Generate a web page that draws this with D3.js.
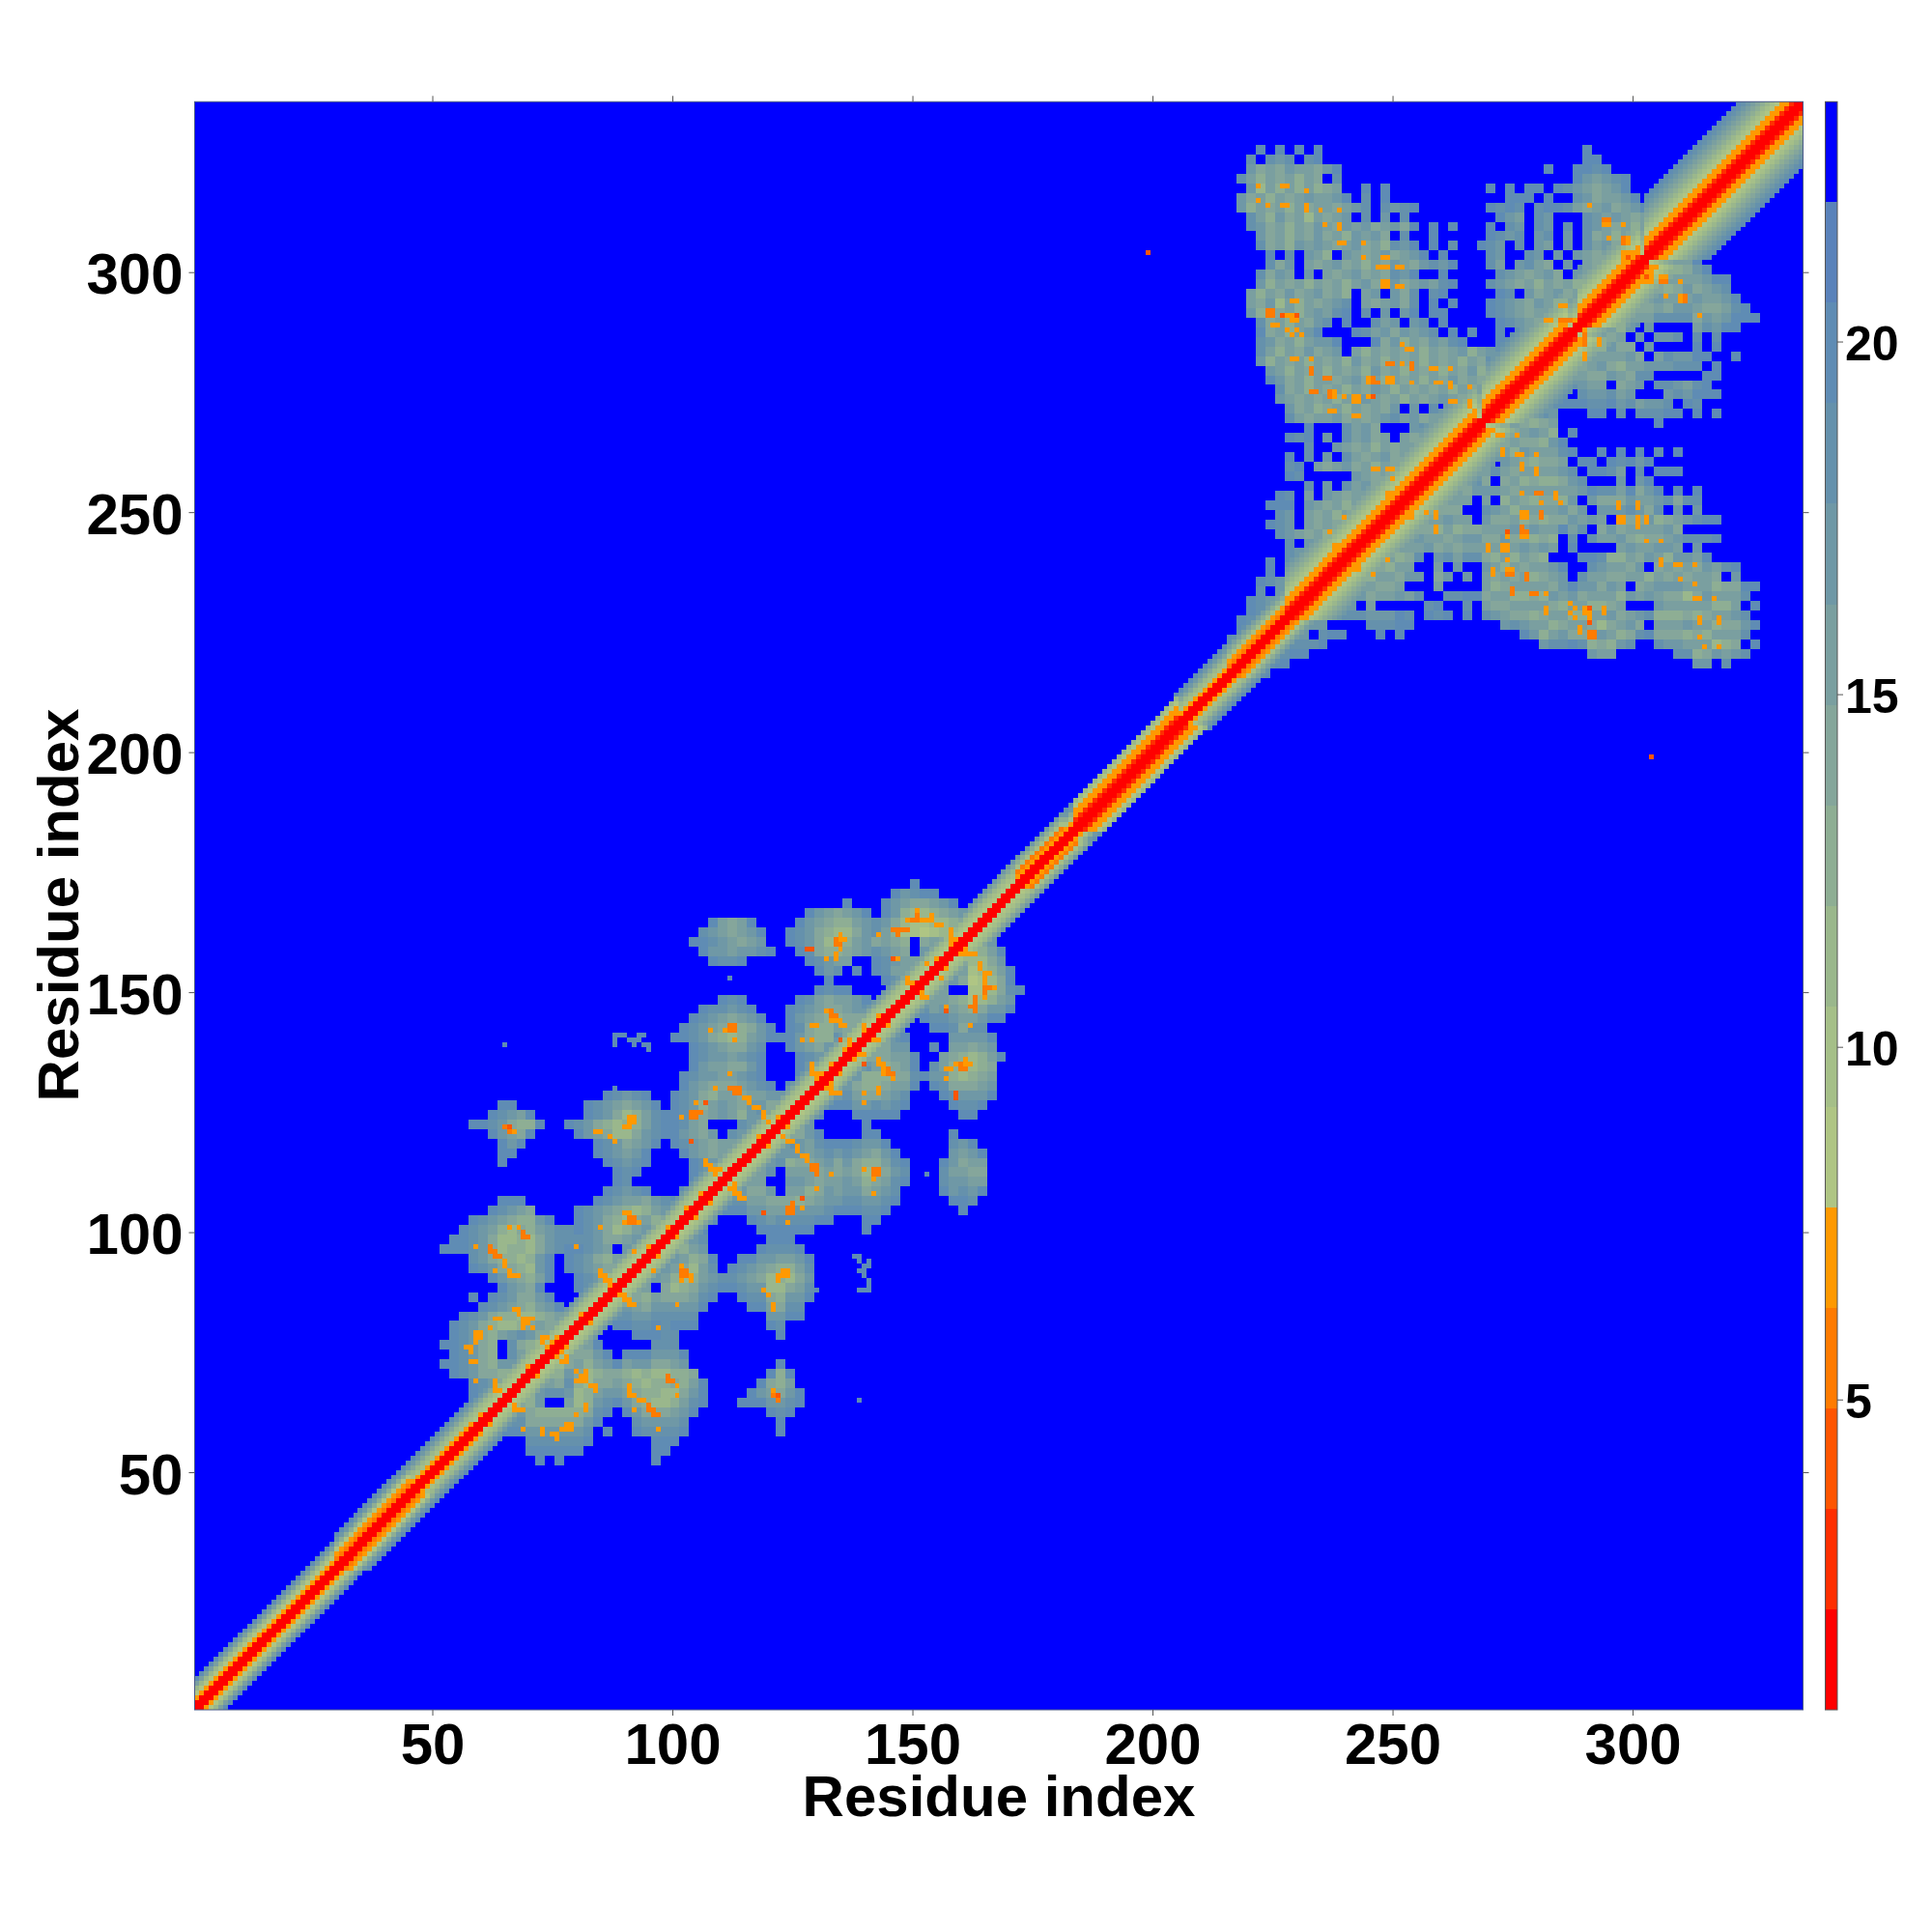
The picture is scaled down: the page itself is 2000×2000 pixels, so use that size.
<!DOCTYPE html>
<html><head><meta charset="utf-8">
<style>html,body{margin:0;padding:0;background:#fff}svg{display:block}text{font-family:"Liberation Sans",Arial,sans-serif;font-weight:bold;fill:#000}</style>
<script src="https://cdnjs.cloudflare.com/ajax/libs/d3/7.8.5/d3.min.js"></script>
</head><body><svg id="chart" width="2000" height="2000"></svg>
<script>
// distance levels, 0 = closest (red) ... 15 = farthest (blue)
const levelColors = ["#ff0000","#ff2f00","#ff5500","#ff7b00","#ff9900","#afc584","#a5bf88","#9ab78c","#8eae94","#85a69b","#7a9fa0","#6f98a6","#6591ac","#5f8cb4","#5a82ba","#0000ff"];
const residueCount = 335;
const axisTicks = [50,100,150,200,250,300];
const barTicks = [5,10,15,20];
const axisTitle = "Residue index";

// profile along the diagonal: first residue, last residue, level by offset from the diagonal
const bandSegments = [
 [1,30,"00457ad"],[30,45,"00345 8bd"],[45,58,"004679bd"],[58,172,"00567 9b"],
 [172,181,"0043 68b"],[181,184,"0046 8bc"],[184,205,"00144 57"],[205,216,"00467 9bd"],
 [216,228,"00346 8ac"],[228,240,"00144 56789ab"],[240,254,"00144 56789ab"],[254,267,"00144 56789ab"],
 [267,269,"00567 89abc"],[269,286,"00144 56789abc"],[286,289,"00567 89abc"],[289,301,"00144 56789abc"],
 [301,303,"00567 89abc"],[303,335,"00144 56789abcd"]
];

// first cluster region, 2-residue cells, x from 52, rows y = 172, 170, ... (upper-left half)
const clusterAStartX = 52, clusterATopY = 172;
const clusterARows = [
"..........  ..........  ..........  ..........  .........d",
"..........  ..........  ..........  ..........  .......dbc  dd",
"..........  ..........  ..........  ..........  ..d...dba9  9abd",
"..........  ..........  ..........  ........db  a9abd.db87  789abd",
"..........  ..........  ........da  9ad....dba  988abcb976  67789ab",
"..........  ..........  .......cba  9abd..dcb9  8779bca866  5678a9b8",
"..........  ..........  ......ddcb  a9ab..dcb9  778ab9a98.  9a97887a",
"..........  ..........  .......dbb  abbcd..dc9  889abcba9.  ba988",
"..........  ..........  ........dc  cd......dc  baa..dcbaa  a9989",
"..........  ..........  ..........  .........d  bc.d.dcaa9  9a8a",
"..........  ..........  ..........  ..........  d.....dcba  98a",
"..........  ..........  ..........  .........d  cdd....dcb  a98",
"..........  ..........  .........d  cd.....dca  9aabd.dc98  9",
"..........  ..........  .......dcc  bcd...dcba  99abcba8",
"..........  ..........  ......dcba  9abd..dba9  8899ab8",
"..........  ..........  .....dcba9  889bd.dc98  8a9b9a8",
"..........  ..........  ....ddcb98  78abdddb98  8cba98",
"..........  ..........  ......dcba  99bc..dba9  bccb9",
"..........  ..........  ......dcbb  abcd...dcb  bcca",
"..........  ..........  ......dbaa  99bd...dba  abb9",
"..........  ..........  .....dcbba  abcd...dc9  aa9",
"..........  ..........  .....dba99  9abcd.dcb8  9a",
"..........  .......dcb  cd..dcb98a  a9aabba9",
"......dd..  .....dcba9  abd.dcb8ab  a9bb9ab8",
".....dcbad  .....dcb97  8acddcb9ab  a8bc9a8",
"...ddcb988  d..dcb9878  8acddca9..  .cb98a",
".....dba9d  ....dba977  9bcddba9b.  cb98",
"......dbd.  ......dcb9  abd.dcba9a  a9a8",
"......dd..  ......dcba  bd...dba9a  aa9",
"......d...  .......dcb  cd....dcba  9a",
"..........  ........dc  d.....dcb9  a",
"..........  ........dc  ......dba9",
"..........  .......dcb  cd...dcb9a",
"......ddd.  ......dcba  a9bcd.cb",
".....dcba9  ....dcba98  78abba9",
"...dcba988  bd..dcb987  9a8ab9",
"..dcba8798  abccdcb978  abb98",
".ddcb97787  9bccccb99a  b9a8",
"dddcb97887  9bcddcba.b  ab9",
"...cb98878  bd.dcb98ab  a89",
"...dcb9987  bd.dcba997  a8",
".....dba98  ad..dcb987  9",
"......dba9  d...dcb98",
"...d.dcb99  bd...dc9",
"....dcba98  abd.dcb",
"..dcb98877  89abb9",
".dcb987789  a9988",
".dcb98abcb  9987",
"ddcb98.c98  7898",
".dcb98.ca8  87",
"ddcb98bb98  8",
".dcb9988a9",
"...dcb988",
"...dcb98",
"....dcb"
];

// second cluster region, 2-residue cells, x from 216, rows y = 329, 327, ... (upper-left half)
const clusterBStartX = 216, clusterBTopY = 329;
const clusterBRows = [
"",
"",
"...d.d.d.d  ..........  ..........  .......d",
"..c.cbc.cd  ..........  ..........  .......dd",
"..b9a9baa9  bd........  ..........  ...d..ddcd",
".ca8a9a8a9  .c........  ..........  ......dbab  cd",
"..b7a8a8a8  9a..d.d...  .......d.d  .dd.dcba9a  bd",
".b9a8a9aba  abd.c.d...  .........d  dd.d..cb9a  abd",
".b8a9a8a9a  a9abc.cbcd  .......dcd  c.cddca9ab  9abd",
"..ca8b9a7a  9ab.c.b.c.  ........db  a.cb...cba  ba9abd",
"..cb9a8a9b  a9bab9ab9d  .d.d...d.c  b.cb.c.cba  9a8a9abd",
"...b9a8a9b  9a8bab9.c.  .d.....dcb  c.bc.b.c9a  8a9a9bd",
"...c9a8bab  a9ab9a8cbd  .d.c..dcb.  c.ba.b.cab  9a8abd",
"....d.c.ba  8.ba9ab9ab  d.d....cb.  .cb.b.ba9a  b9ab9",
"....c9b.a9  ab9a8a9ba9  bcbd...ca.  bca9.b.a9a  8a9a",
"...c9ba.b.  a9ab9a9cbd  ..d.....cb  a9ab9.ba8a  9a8",
"...b8a9a8a  9a8ab9ab9a  bacd...cba  9a8a9a8ab9  a8",
"..a8a9b9ab  9a8.ab.b9c  .cd.....dc  .b9ab9a8a9  8",
"..a9b7a8a9  abc.a9ab9c  .d.d...dcb  a9ba8a9a8",
"..b8a9a8ab  acd.c.b.bd  .dd....dcb  a9ab9a8a9",
"...c9a8a9b  c.d..cab.b  c.d.....dc  ba9a8a9a",
"...d9a8abd  ...dcab9ba  bc.d.d..d.  ca9a8a7",
"...cb9a8ab  bd...d9b8a  9bacd...dc  a9b8a7",
"...ca8a9b9  ab.a8a9a9a  8a9ab8abdb  a9a8",
"...b8a9a8a  9a8b9a8a9a  8a9a8a9cb9  a87",
"....ba8a9a  8a9a8b9a8a  9a8a9b8a9a  87",
"....db9a8a  a9ab9a8a9a  8a9b9a9a8a  7",
".....c9a8a  9a8a9ba8a9  a9a8a9a9b8",
".....ba9a9  a8a9ba9a8a  9aba9a8ba",
"......b9a8  9a8a9a9b.b  .c.cabc9",
"......ca9a  ab9a9abcab  9abcb9a",
"........d.  ..cab9...b  c.bcab",
"......dcd.  b.cab9a.a9  abcba",
"........c.  .ba9a8a9ab  9ac9",
"......d.c.  b.ca9ab9ab  8a9",
"......cd.a  9ab9a8a9a8  a9",
"......dc..  ...ba9a8a9  a",
"........c.  b.cab9a8a9",
".....dc.a.  ba9ab9a8a",
"....ddd.ba  9a8ab9a8a",
".....cb.a9  a8ab9a8a",
"....dcb.a9  a9a8a9a",
".....cba9a  8a9a8a",
"......c.ba  9a8a9",
"......cba9  a8a9",
"....d.ca9a  8a9",
"....d.cb9a  98",
"...dcba9a8  a",
"...c.ba9a8",
"..dcba9a8",
"..dcb9a8",
".dcba9a",
".dcb9a",
"dcba9"
];

// close contacts, as residue pairs
const contactsLevel2 = [[199,304],[107,127],[104,119],[146,157],[128,159],[129,159],[135,140],[66,122],[227,291],[274,246],[303,299],[291,230]];
const contactsLevel3 = [
 [65,122],[66,121],[112,143],[113,143],[112,142],[113,142],[113,130],[112,130],[114,130],[113,129],[114,129],[104,125],[105,125],[104,124],[105,124],[106,125],
 [62,96],[63,96],[62,97],[63,95],[64,95],[69,100],[69,99],[70,99],[91,103],[92,103],[91,102],[92,102],[147,163],[146,163],[147,162],[148,163],[149,163],
 [134,160],[135,160],[134,161],[133,146],[133,145],[134,145],[151,166],[150,165],[151,165],[225,292],[224,292],[225,291],[224,291],
 [278,237],[278,236],[275,234],[275,233],[291,225],[292,225],[291,224],[233,280],[233,279],[237,275],[237,274],[254,281],[254,280],[281,250],[281,249],[277,246],[278,246],[277,247],[290,287],[295,311],[294,311],[298,307],[298,306],[285,290],[286,290]
];
const contactsLevel4 = [
 [67,121],[91,124],[91,123],[91,122],[92,123],[90,122],[92,124],[88,119],[87,120],[84,121],[85,121],[111,142],[108,142],[113,140],[112,133],
 [115,128],[116,127],[116,128],[117,126],[118,126],[119,125],[119,124],[120,123],[109,130],[105,127],[102,124],[107,115],[108,114],[109,113],[108,113],[110,113],[107,114],[109,112],
 [68,101],[66,101],[65,94],[65,93],[66,92],[66,91],[67,91],[68,91],[59,97],[63,92],[90,104],[91,104],[90,102],[93,102],[85,101],[80,97],[92,96],
 [85,92],[85,91],[86,91],[86,90],[87,89],[87,90],[88,89],[67,84],[68,84],[68,83],[69,82],[70,82],[69,81],[70,81],[71,80],[69,80],[71,82],[63,82],[64,82],
 [59,79],[60,79],[59,78],[60,78],[59,77],[58,76],[57,76],[58,75],[62,80],[58,73],[59,73],[59,69],[63,69],[63,68],[63,67],[64,67],[73,78],[74,78],[73,77],[74,76],[75,77],[76,78],[77,78],
 [134,158],[134,157],[135,159],[135,161],[136,161],[135,162],[132,157],[151,167],[152,165],[153,165],[149,165],[154,165],[154,166],[155,164],[156,164],[158,163],[158,162],[158,161],[159,161],[158,160],[143,162],[147,157],[153,156],[149,153],[149,152],[150,152],
 [132,146],[133,144],[134,144],[135,144],[135,143],[136,143],[129,143],[130,143],[127,140],[129,140],[137,139],[137,140],[129,135],[129,134],[129,133],[130,133],[131,133],[140,143],[140,142],
 [122,124],[133,135],[130,132],[106,108],[103,105],[99,101],[95,97],[81,83],[70,72],[136,138],[118,120],[75,77],[60,62],[143,145],[150,152],[155,157],
 [222,318],[227,318],[232,317],[222,315],[224,314],[227,314],[232,314],[232,313],[235,313],[239,313],[236,310],[239,310],[239,309],[239,306],[240,306],[244,306],[244,303],[248,303],[247,301],[248,301],[251,301],[248,298],[248,297],[251,297],[252,297],
 [229,294],[229,291],[229,290],[225,289],[228,288],[230,288],[229,282],[230,282],[233,282],[236,278],[237,278],[233,275],[234,275],[238,274],[240,274],[242,274],[242,273],[245,274],[237,271],[238,271],[242,270],
 [252,285],[254,284],[253,284],[249,281],[252,281],[258,280],[262,280],[245,278],[245,277],[246,277],[249,278],[249,277],[254,277],[259,277],[262,277],[262,276],[266,276],[262,273],[263,273],[266,273],[266,272],[266,269],
 [291,314],[295,310],[298,310],[295,307],[299,307],[298,304],[298,303],[285,293],[282,290],[287,290],[290,288],[290,286],[293,286],[290,283],
 [246,259],[249,259],[250,259],[250,257],[249,254],[250,254],[240,249],[237,246],
 [304,299],[307,299],[306,299],[310,298],[307,295],[310,295],[311,295],[310,294],[314,291],[273,266],[276,266],[273,263],[273,262],[276,262],[277,262],[280,262],[277,260],[280,259],[277,254],[280,254],[281,254],[284,254],[284,253],[285,252],[281,252],[277,250],[278,250],
 [270,243],[273,243],[274,243],[274,240],[271,238],[271,237],[274,238],[275,238],[279,233],[282,233],[282,230],[282,229],[287,231],[287,229],[290,230],[294,230],[291,228],[289,226],
 [297,252],[297,251],[301,252],[297,249],[298,249],[301,249],[301,248],[303,249],[303,244],[306,244],[306,240],[306,239],[309,239],[310,239],[313,239],[310,236],[313,235],[313,232],[314,232],[317,232],[314,228],[318,228],[314,224],[315,222],[318,222],
 [254,250],[257,250],[259,250],[259,249],[259,247],[238,243]
];
// faint isolated pairs, level 13
const contactsFar = [[65,139],[112,153],[88,130],[91,111],[88,141],[89,141],[90,141],[88,140],[88,139],[91,140],[92,140],[93,141],[93,140],[94,141],[94,139],[92,139],[95,138],[95,139],[139,65]];

const svg = d3.select("#chart");
const box = {left:201.5, right:1866.5, top:105.3, bottom:1770};
const x = d3.scaleLinear().domain([0.5,residueCount+0.5]).range([box.left,box.right]);
const y = d3.scaleLinear().domain([0.5,residueCount+0.5]).range([box.bottom,box.top]);
const color = d3.scaleOrdinal(d3.range(16), levelColors);

// assemble the symmetric matrix as a sparse map
const cells = new Map();
const put = (a,b,level)=>{
  if(a<1||b<1||a>residueCount||b>residueCount) return;
  for(const [p,q] of [[a,b],[b,a]]){
    const k=p*1000+q;
    if(!cells.has(k)||cells.get(k)>level) cells.set(k,level);
  }
};
const readRows=(rows,startX,topY)=>rows.forEach((row,r)=>{
  [...row.replace(/ /g,"")].forEach((ch,c)=>{
    if(ch===".") return;
    const level=parseInt(ch,16);
    const x0=startX+2*c, y0=topY-2*r;
    for(const a of [x0,x0+1]) for(const b of [y0,y0+1]) if(a<b) put(a,b,level);
  });
});
readRows(clusterARows,clusterAStartX,clusterATopY);
readRows(clusterBRows,clusterBStartX,clusterBTopY);
bandSegments.forEach(([from,to,profile])=>{
  const p=profile.replace(/ /g,"");
  for(let i=from;i<=to;i++) [...p].forEach((ch,d)=>put(i,i+d,parseInt(ch,16)));
});
[[contactsFar,13],[contactsLevel4,4],[contactsLevel3,3],[contactsLevel2,2]].forEach(([list,level])=>list.forEach(([a,b])=>put(a,b,level)));

const cellData=[...cells.entries()].map(([k,v])=>({a:Math.floor(k/1000),b:k%1000,v}));

// background of far pairs
svg.append("rect").attr("x",x(0.5)).attr("y",y(residueCount+0.5)).attr("width",x(residueCount+0.5)-x(0.5)).attr("height",y(0.5)-y(residueCount+0.5)).attr("fill",color(15));
svg.append("g").attr("shape-rendering","crispEdges").selectAll("rect").data(cellData).join("rect")
  .attr("x",d=>x(d.a-0.5)).attr("y",d=>y(d.b+0.5))
  .attr("width",d=>x(d.a+0.5)-x(d.a-0.5)).attr("height",d=>y(d.b-0.5)-y(d.b+0.5))
  .attr("fill",d=>color(d.v));

// frame and axes
svg.append("rect").attr("x",box.left).attr("y",box.top).attr("width",box.right-box.left).attr("height",box.bottom-box.top).attr("fill","none").attr("stroke","#4a5a8a").attr("stroke-width",1);
const styleAxis=(g,size,dy)=>{
  g.select(".domain").remove();
  g.selectAll("line").attr("stroke","#555").attr("stroke-width",1);
  g.selectAll("text").style("font-size",size+"px").style("font-weight","bold").style("font-family",'"Liberation Sans",Arial,sans-serif').attr("fill","#000");
  if(dy) g.selectAll("text").attr("dy",dy);
};
svg.append("g").attr("transform",`translate(0,${box.bottom})`).call(d3.axisBottom(x).tickValues(axisTicks).tickSize(6).tickPadding(7)).call(g=>styleAxis(g,60));
svg.append("g").attr("transform",`translate(${box.left},0)`).call(d3.axisLeft(y).tickValues(axisTicks).tickSize(6).tickPadding(6)).call(g=>styleAxis(g,60,"0.37em"));
svg.append("g").attr("transform",`translate(0,${box.top})`).call(d3.axisTop(x).tickValues(axisTicks).tickSize(6).tickFormat("")).call(g=>styleAxis(g,60));
svg.append("g").attr("transform",`translate(${box.right},0)`).call(d3.axisRight(y).tickValues(axisTicks).tickSize(6).tickFormat("")).call(g=>styleAxis(g,60));

svg.append("text").attr("x",1034).attr("y",1880).attr("text-anchor","middle").style("font-size","60px").text(axisTitle);
svg.append("text").attr("transform","translate(81,937) rotate(-90)").attr("text-anchor","middle").style("font-size","60px").text(axisTitle);

// colour bar
const barScale=d3.scaleLinear().domain([0.6,23.4]).range([box.bottom,box.top]);
const barBins=d3.scaleQuantize().domain(barScale.domain()).range(levelColors);
const bar={left:1889.5,width:12.5};
svg.append("g").attr("shape-rendering","crispEdges").selectAll("rect").data(levelColors).join("rect")
  .attr("x",bar.left).attr("width",bar.width)
  .attr("y",c=>barScale(barBins.invertExtent(c)[1]))
  .attr("height",c=>barScale(barBins.invertExtent(c)[0])-barScale(barBins.invertExtent(c)[1]))
  .attr("fill",c=>c);
svg.append("rect").attr("x",bar.left).attr("y",box.top).attr("width",bar.width).attr("height",box.bottom-box.top).attr("fill","none").attr("stroke","#555").attr("stroke-width",1);
svg.append("g").attr("transform",`translate(${bar.left+bar.width},0)`).call(d3.axisRight(barScale).tickValues(barTicks).tickSize(6).tickPadding(2)).call(g=>styleAxis(g,50,"0.38em"));
</script></body></html>
